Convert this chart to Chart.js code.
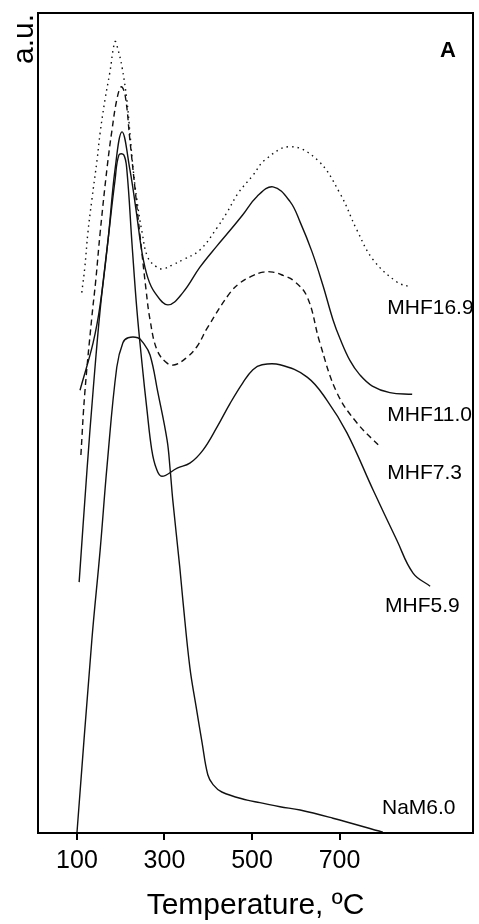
<!DOCTYPE html>
<html lang="en">
<head>
  <meta charset="UTF-8" />
  <title>TPD profiles A</title>
  <script src="https://cdn.jsdelivr.net/npm/chart.js"></script>
  <style>
    body { margin: 0; background: #fff; }
    #wrap { width: 479px; height: 924px; }
  </style>
</head>
<body>
  <div id="wrap">
    <canvas id="tpdChart" width="479" height="924"></canvas>
  </div>

  <script>
    // values (temperature in C, intensity in a.u. 0-100)
    const xTicks = [100, 300, 500, 700];

    const t169 = [111, 118, 125, 134, 146, 153, 164, 175, 187, 194, 203, 214, 221, 228, 237, 249, 262, 283, 297, 319, 342, 381, 420, 443, 468, 502, 530, 587, 649, 701, 740, 777, 831, 861];
    const y169 = [65.9, 69.0, 73.2, 77.2, 82.1, 85.4, 89.4, 92.7, 96.5, 95.5, 93.4, 89.4, 85.4, 81.2, 77.2, 73.2, 70.2, 69.0, 68.8, 69.3, 69.9, 71.1, 73.8, 75.7, 78.0, 80.2, 82.1, 83.7, 82.1, 78.0, 73.5, 69.9, 67.2, 66.6];

    const t110 = [107, 137, 153, 171, 187, 203, 221, 235, 249, 262, 278, 308, 342, 381, 420, 450, 479, 511, 548, 587, 610, 637, 662, 685, 701, 724, 746, 775, 815, 866];
    const y110 = [54.0, 59.8, 64.4, 72.3, 80.9, 85.5, 80.9, 76.0, 70.7, 67.7, 65.9, 64.4, 65.9, 69.0, 71.6, 73.5, 75.4, 77.6, 78.8, 77.0, 74.5, 70.9, 66.8, 62.6, 60.3, 57.6, 55.9, 54.5, 53.7, 53.5];

    const t73 = [109, 118, 134, 143, 153, 169, 180, 191, 201, 210, 221, 233, 244, 258, 267, 283, 306, 324, 351, 374, 399, 450, 473, 495, 525, 548, 571, 594, 626, 655, 694, 740, 793];
    const y73 = [46.1, 53.7, 62.9, 67.4, 73.2, 81.2, 85.7, 89.4, 91.0, 90.0, 84.5, 78.4, 72.9, 66.2, 62.6, 58.9, 57.3, 57.1, 58.0, 59.3, 61.7, 65.9, 67.1, 67.8, 68.4, 68.4, 68.0, 67.4, 65.4, 59.8, 53.7, 50.0, 47.1];

    const t59 = [105, 123, 137, 153, 171, 187, 196, 207, 214, 226, 237, 249, 260, 271, 281, 294, 329, 358, 388, 420, 450, 479, 502, 523, 564, 626, 671, 717, 777, 831, 868, 907];
    const y59 = [30.6, 44.3, 54.0, 63.8, 72.3, 79.6, 82.7, 82.7, 80.9, 71.7, 63.8, 57.1, 51.6, 46.7, 44.5, 43.5, 44.5, 45.1, 46.7, 49.5, 52.4, 54.9, 56.5, 57.1, 57.1, 55.6, 52.8, 48.8, 41.8, 35.7, 31.7, 30.1];

    const tNa = [100, 134, 153, 169, 191, 205, 217, 239, 251, 267, 285, 306, 313, 319, 335, 342, 358, 372, 386, 399, 411, 431, 489, 518, 564, 610, 685, 799];
    const yNa = [0, 23.5, 34.5, 44.9, 56.8, 59.8, 60.4, 60.4, 59.8, 58.3, 53.7, 47.9, 44.3, 40.6, 32.4, 28.4, 20.2, 15.5, 11.0, 7.1, 5.9, 5.0, 4.0, 3.7, 3.2, 2.8, 1.8, 0.1];

    const curveNames = ['MHF16.9', 'MHF11.0', 'MHF7.3', 'MHF5.9', 'NaM6.0'];
    const labelT = [809, 809, 809, 804, 797];
    const labelY = [64.0, 51.0, 43.9, 27.6, 3.0];

    const FONT = '"Liberation Sans", Arial, sans-serif';

    function pts(xs, ys) {
      return xs.map((x, i) => ({ x: x, y: ys[i] }));
    }

    function curve(name, xs, ys, dash) {
      return {
        label: name,
        data: pts(xs, ys),
        borderColor: '#111',
        borderWidth: 1.4,
        borderDash: dash,
        pointRadius: 0,
        tension: 0.4,
        fill: false
      };
    }

    const decorations = {
      id: 'decorations',
      afterDatasetsDraw(chart) {
        const { ctx, chartArea: a, scales: { x, y } } = chart;
        ctx.save();
        // frame
        ctx.strokeStyle = '#000';
        ctx.lineWidth = 2;
        ctx.strokeRect(a.left, a.top, a.right - a.left, a.bottom - a.top);

        // curve names
        ctx.fillStyle = '#000';
        ctx.font = '21px ' + FONT;
        ctx.textAlign = 'left';
        ctx.textBaseline = 'middle';
        curveNames.forEach((n, i) => {
          ctx.fillText(n, x.getPixelForValue(labelT[i]), y.getPixelForValue(labelY[i]));
        });

        // panel letter
        ctx.font = 'bold 22px ' + FONT;
        ctx.textAlign = 'center';
        ctx.fillText('A', a.right - 25, a.top + 38);

        // y axis label, rotated, at the top
        ctx.translate(a.left - 5, a.top + 1);
        ctx.rotate(-Math.PI / 2);
        ctx.font = '30px ' + FONT;
        ctx.textAlign = 'right';
        ctx.textBaseline = 'alphabetic';
        ctx.fillText('a.u.', 0, 0);
        ctx.restore();
      }
    };

    const ctx = document.getElementById('tpdChart').getContext('2d');
    new Chart(ctx, {
      type: 'line',
      data: {
        datasets: [
          curve('MHF16.9', t169, y169, [1.5, 4]),
          curve('MHF11.0', t110, y110, []),
          curve('MHF7.3', t73, y73, [6, 4]),
          curve('MHF5.9', t59, y59, []),
          curve('NaM6.0', tNa, yNa, [])
        ]
      },
      options: {
        responsive: false,
        animation: false,
        layout: { padding: { left: 38, right: 6, top: 13, bottom: 0 } },
        plugins: {
          legend: { display: false },
          tooltip: { enabled: false }
        },
        scales: {
          x: {
            type: 'linear',
            min: 11,
            max: 1005,
            afterBuildTicks: scale => {
              scale.ticks = xTicks.map(v => ({ value: v }));
            },
            afterFit: scale => {
              scale.height = 91;
            },
            border: { display: false },
            grid: {
              drawOnChartArea: false,
              drawTicks: true,
              tickLength: 7,
              color: '#000',
              lineWidth: 2
            },
            ticks: {
              autoSkip: false,
              maxRotation: 0,
              padding: 6,
              color: '#000',
              font: { family: FONT, size: 25 }
            },
            title: {
              display: true,
              text: 'Temperature, ºC',
              color: '#000',
              padding: { top: 0, bottom: 0 },
              font: { family: FONT, size: 30 }
            }
          },
          y: {
            display: false,
            min: 0,
            max: 100
          }
        }
      },
      plugins: [decorations]
    });
  </script>
</body>
</html>
